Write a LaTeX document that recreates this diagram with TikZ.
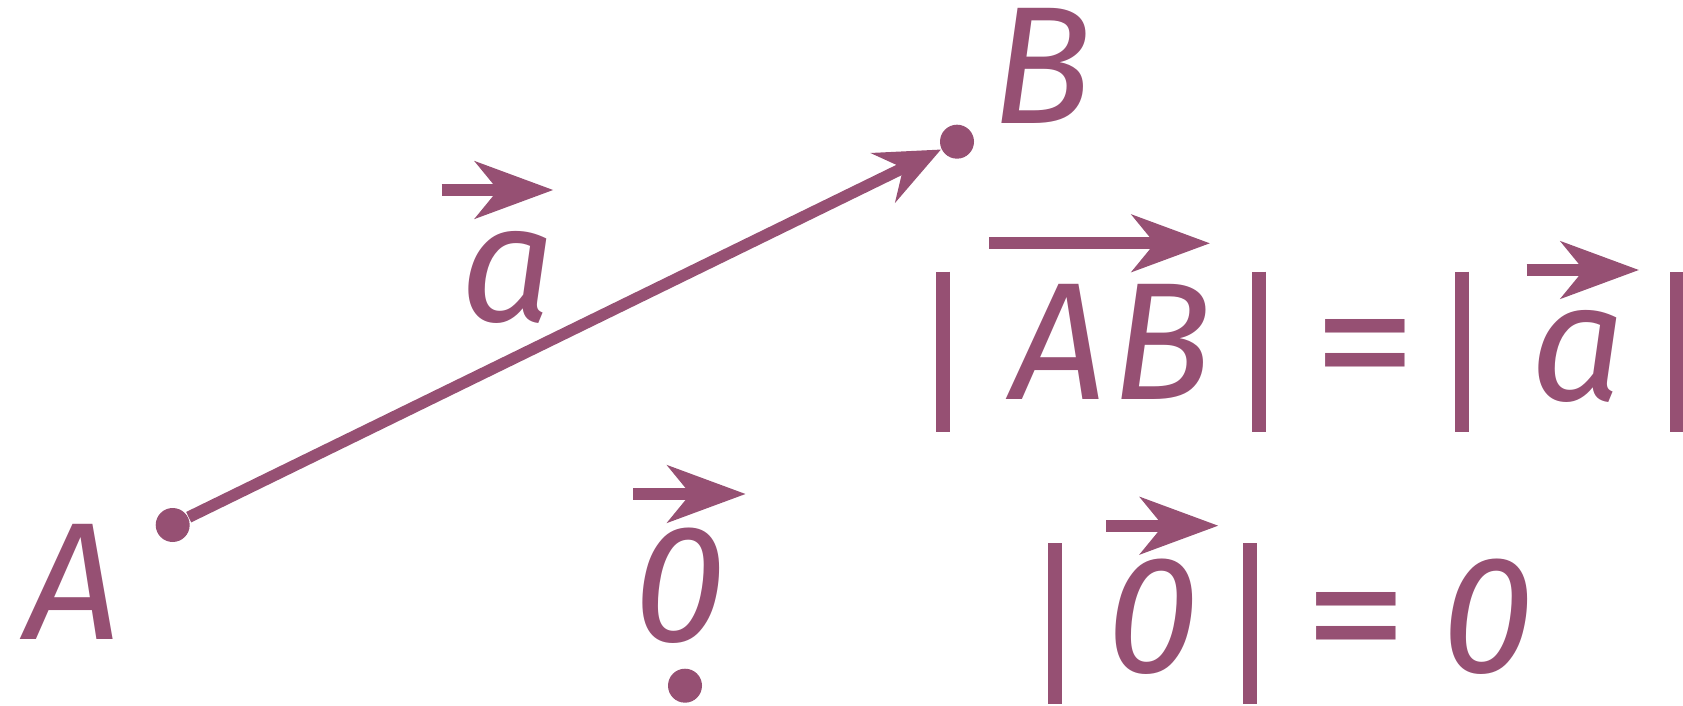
\documentclass[tikz,border=0pt]{standalone}
\usepackage{fontspec}
\setmainfont{Fira Sans}
\usetikzlibrary{arrows.meta}
\definecolor{vecpurple}{RGB}{150,80,115}
\tikzset{
  vdot/.style={circle, fill=vecpurple, inner sep=0pt, minimum size=8.5pt},
  vlabel/.style={anchor=base, text=vecpurple, inner sep=0pt, text depth=0pt, font=\fontsize{41.8}{44}\selectfont\itshape},
  eqsign/.style={anchor=base, text=vecpurple, inner sep=0pt, text depth=0pt, font=\fontsize{44}{46}\selectfont},
  vecarrow/.style={-{Stealth[length=19.5pt, width=14.2pt, inset=5.7pt]}, draw=vecpurple, line width=3pt},
  mainarrow/.style={-{Stealth[length=16pt, width=13.6pt, inset=5.5pt]}, draw=vecpurple, line width=2.9pt},
  absbar/.style={draw=vecpurple, line width=3.5pt}
}
\begin{document}
\begin{tikzpicture}[x=0.25pt,y=-0.25pt]
\useasboundingbox (0,0) rectangle (1683,706);

\node[vdot] (dotA) at (172.7,525) {};
\node[vdot] (dotB) at (957,141.7) {};
\node[vdot] (dot0) at (685,685.7) {};
\draw[mainarrow] (dotA) -- (dotB);

\node[vlabel] (labA) at (73,639.3) {A};
\node[vlabel] (labB) at (1042,123.8) {B};
\node[vlabel] (laba) at (508,321.7) {a};
\node[vlabel] (lab0) at (680,642) {0};
\draw[vecarrow] (441.7,190) -- (553.3,190);
\draw[vecarrow] (633.3,494) -- (745.7,494);

% |AB| = |a|
\draw[absbar] (943,271.7) -- (943,431.7);
\node[vlabel] (fA) at (1059,399.3) {A};
\node[vlabel] (fB) at (1162,399.3) {B};
\draw[vecarrow] (989,243.3) -- (1210,243.3);
\draw[absbar] (1259,271.7) -- (1259,431.7);
\node[eqsign] (eq1) at (1365.4,401.7) {\scalebox{1.2}[1]{=}};
\draw[absbar] (1462,271.7) -- (1462,431.7);
\node[vlabel] (fa) at (1578,400) {a};
\draw[vecarrow] (1526.7,270) -- (1639,270);
\draw[absbar] (1677,271.7) -- (1677,431.7);

% |0| = 0
\draw[absbar] (1055,543.3) -- (1055,704);
\node[vlabel] (z0) at (1153,672) {0};
\draw[vecarrow] (1106,525.7) -- (1218.3,525.7);
\draw[absbar] (1250,543.3) -- (1250,704);
\node[eqsign] (eq2) at (1355.8,674) {\scalebox{1.2}[1]{=}};
\node[vlabel] (z1) at (1488,672) {0};
\end{tikzpicture}
\end{document}
